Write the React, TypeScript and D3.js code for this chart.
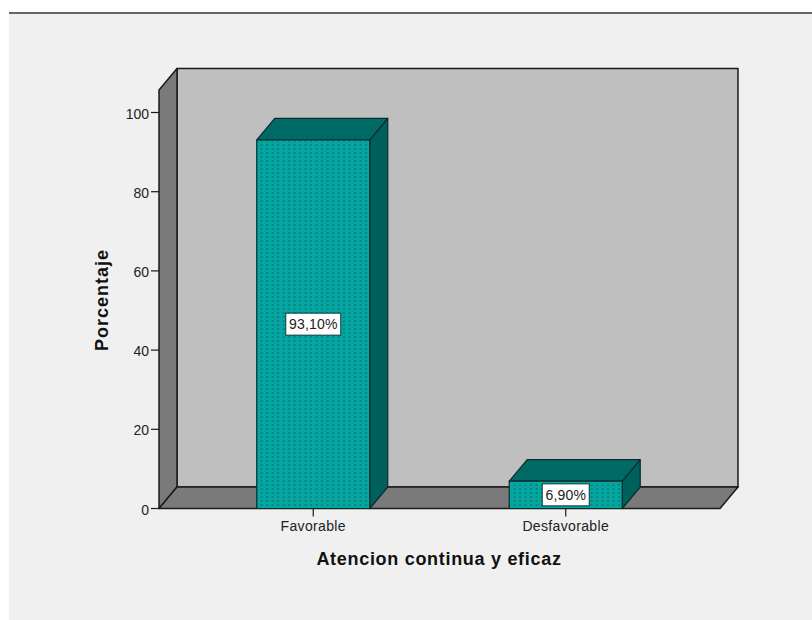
import React, { useEffect, useRef } from "react";
import * as d3 from "d3";

const categories = ["Favorable", "Desfavorable"];
const values = [93.1, 6.9];
const valueLabels = ["93,10%", "6,90%"];
const yTicks = [0, 20, 40, 60, 80, 100];
const xTitle = "Atencion continua y eficaz";
const yTitle = "Porcentaje";

const FONT = "'Liberation Sans', Arial, sans-serif";
const INK = "#1a1a1a";

const App: React.FC = () => {
  const ref = useRef<SVGSVGElement>(null);

  useEffect(() => {
    const svg = d3.select(ref.current);
    svg.selectAll("*").remove();

    // Front plane of the 3D box
    const left = 159;
    const right = 720;
    const depthX = 18;
    const depthY = 21.5;
    const barWidth = 113;

    const y = d3.scaleLinear().domain([0, 100]).range([508.5, 112.5]);
    const x = d3.scalePoint<string>().domain(categories).range([left, right]).padding(0.611);
    const plotTop = 90;
    const base = y(0);

    const poly = (pts: number[][]) => d3.line()(pts as [number, number][]) + "Z";

    const defs = svg.append("defs");
    const pattern = defs
      .append("pattern")
      .attr("id", "dots")
      .attr("patternUnits", "userSpaceOnUse")
      .attr("width", 5.5)
      .attr("height", 4)
      .attr("x", 258)
      .attr("y", 140);
    pattern.append("rect").attr("width", 5.5).attr("height", 4).attr("fill", "#05a69f");
    pattern.append("rect").attr("x", 3).attr("y", 0).attr("width", 1.2).attr("height", 2).attr("fill", "#03727a");

    // Page and panel background
    svg.append("rect").attr("width", 812).attr("height", 620).attr("fill", "#ffffff");
    svg.append("rect").attr("x", 9).attr("y", 13).attr("width", 803).attr("height", 607).attr("fill", "#f0f0f0");
    svg.append("rect").attr("x", 9).attr("y", 12).attr("width", 803).attr("height", 2).attr("fill", "#666666");

    const walls = svg.append("g").attr("stroke", INK).attr("stroke-width", 1.5).attr("stroke-linejoin", "round");

    // Back wall
    walls
      .append("path")
      .attr("d", poly([
        [left + depthX, plotTop - depthY],
        [right + depthX, plotTop - depthY],
        [right + depthX, base - depthY],
        [left + depthX, base - depthY],
      ]))
      .attr("fill", "#bfbfbf");
    // Left wall
    walls
      .append("path")
      .attr("d", poly([
        [left, plotTop],
        [left + depthX, plotTop - depthY],
        [left + depthX, base - depthY],
        [left, base],
      ]))
      .attr("fill", "#7a7a7a");
    // Floor
    walls
      .append("path")
      .attr("d", poly([
        [left, base],
        [left + depthX, base - depthY],
        [right + depthX, base - depthY],
        [right, base],
      ]))
      .attr("fill", "#7a7a7a");

    // Bars
    const bars = svg
      .append("g")
      .selectAll("g")
      .data(categories)
      .join("g")
      .attr("stroke", "#0b2b2b")
      .attr("stroke-width", 1.2)
      .attr("stroke-linejoin", "round");

    bars
      .append("path")
      .attr("d", (d, i) => {
        const x0 = x(d)! - barWidth / 2;
        const x1 = x0 + barWidth;
        const top = y(values[i]);
        return poly([[x1, top], [x1 + depthX, top - depthY], [x1 + depthX, base - depthY], [x1, base]]);
      })
      .attr("fill", "#00605c");
    bars
      .append("path")
      .attr("d", (d, i) => {
        const x0 = x(d)! - barWidth / 2;
        const x1 = x0 + barWidth;
        const top = y(values[i]);
        return poly([[x0, top], [x0 + depthX, top - depthY], [x1 + depthX, top - depthY], [x1, top]]);
      })
      .attr("fill", "#006a66");
    bars
      .append("rect")
      .attr("x", (d) => x(d)! - barWidth / 2)
      .attr("y", (d, i) => y(values[i]))
      .attr("width", barWidth)
      .attr("height", (d, i) => base - y(values[i]))
      .attr("fill", "url(#dots)");

    // Value labels
    const labels = svg
      .append("g")
      .selectAll("g")
      .data(categories)
      .join("g")
      .attr("transform", (d, i) => `translate(${x(d)},${(y(values[i]) + base) / 2})`);
    labels
      .append("rect")
      .attr("x", (d, i) => (i === 0 ? -27.5 : -23.5))
      .attr("y", -11)
      .attr("width", (d, i) => (i === 0 ? 55 : 47))
      .attr("height", 22)
      .attr("fill", "#ffffff")
      .attr("stroke", "#0b3a3a")
      .attr("stroke-width", 1);
    labels
      .append("text")
      .text((d, i) => valueLabels[i])
      .attr("text-anchor", "middle")
      .attr("dy", 5)
      .attr("font-family", FONT)
      .attr("font-size", 14)
      .attr("letter-spacing", 0.2)
      .attr("fill", "#222222");

    // Y axis ticks
    const yAxis = svg.append("g");
    yAxis
      .selectAll("line")
      .data(yTicks)
      .join("line")
      .attr("x1", left - 8)
      .attr("x2", left)
      .attr("y1", (d) => y(d))
      .attr("y2", (d) => y(d))
      .attr("stroke", INK)
      .attr("stroke-width", 1.2);
    yAxis
      .selectAll("text")
      .data(yTicks)
      .join("text")
      .text((d) => d)
      .attr("x", left - 10)
      .attr("y", (d) => y(d) + 6)
      .attr("text-anchor", "end")
      .attr("font-family", FONT)
      .attr("font-size", 14)
      .attr("fill", "#222222");

    // X axis ticks
    const xAxis = svg.append("g");
    xAxis
      .selectAll("line")
      .data(categories)
      .join("line")
      .attr("x1", (d) => x(d)!)
      .attr("x2", (d) => x(d)!)
      .attr("y1", base)
      .attr("y2", base + 8)
      .attr("stroke", INK)
      .attr("stroke-width", 1.2);
    xAxis
      .selectAll("text")
      .data(categories)
      .join("text")
      .text((d) => d)
      .attr("x", (d) => x(d)!)
      .attr("y", 531)
      .attr("text-anchor", "middle")
      .attr("font-family", FONT)
      .attr("font-size", 14)
      .attr("letter-spacing", 0.35)
      .attr("fill", "#222222");

    // Axis titles
    svg
      .append("text")
      .text(xTitle)
      .attr("x", 439)
      .attr("y", 565)
      .attr("text-anchor", "middle")
      .attr("font-family", FONT)
      .attr("font-size", 18)
      .attr("letter-spacing", 0.7)
      .attr("font-weight", "bold")
      .attr("fill", "#111111");
    svg
      .append("text")
      .text(yTitle)
      .attr("transform", "translate(108,300) rotate(-90)")
      .attr("text-anchor", "middle")
      .attr("font-family", FONT)
      .attr("font-size", 18)
      .attr("letter-spacing", 1)
      .attr("font-weight", "bold")
      .attr("fill", "#111111");
  }, []);

  return (
    <svg
      ref={ref}
      width={812}
      height={620}
      style={{ position: "absolute", left: 0, top: 0, display: "block" }}
    />
  );
};

export default App;
